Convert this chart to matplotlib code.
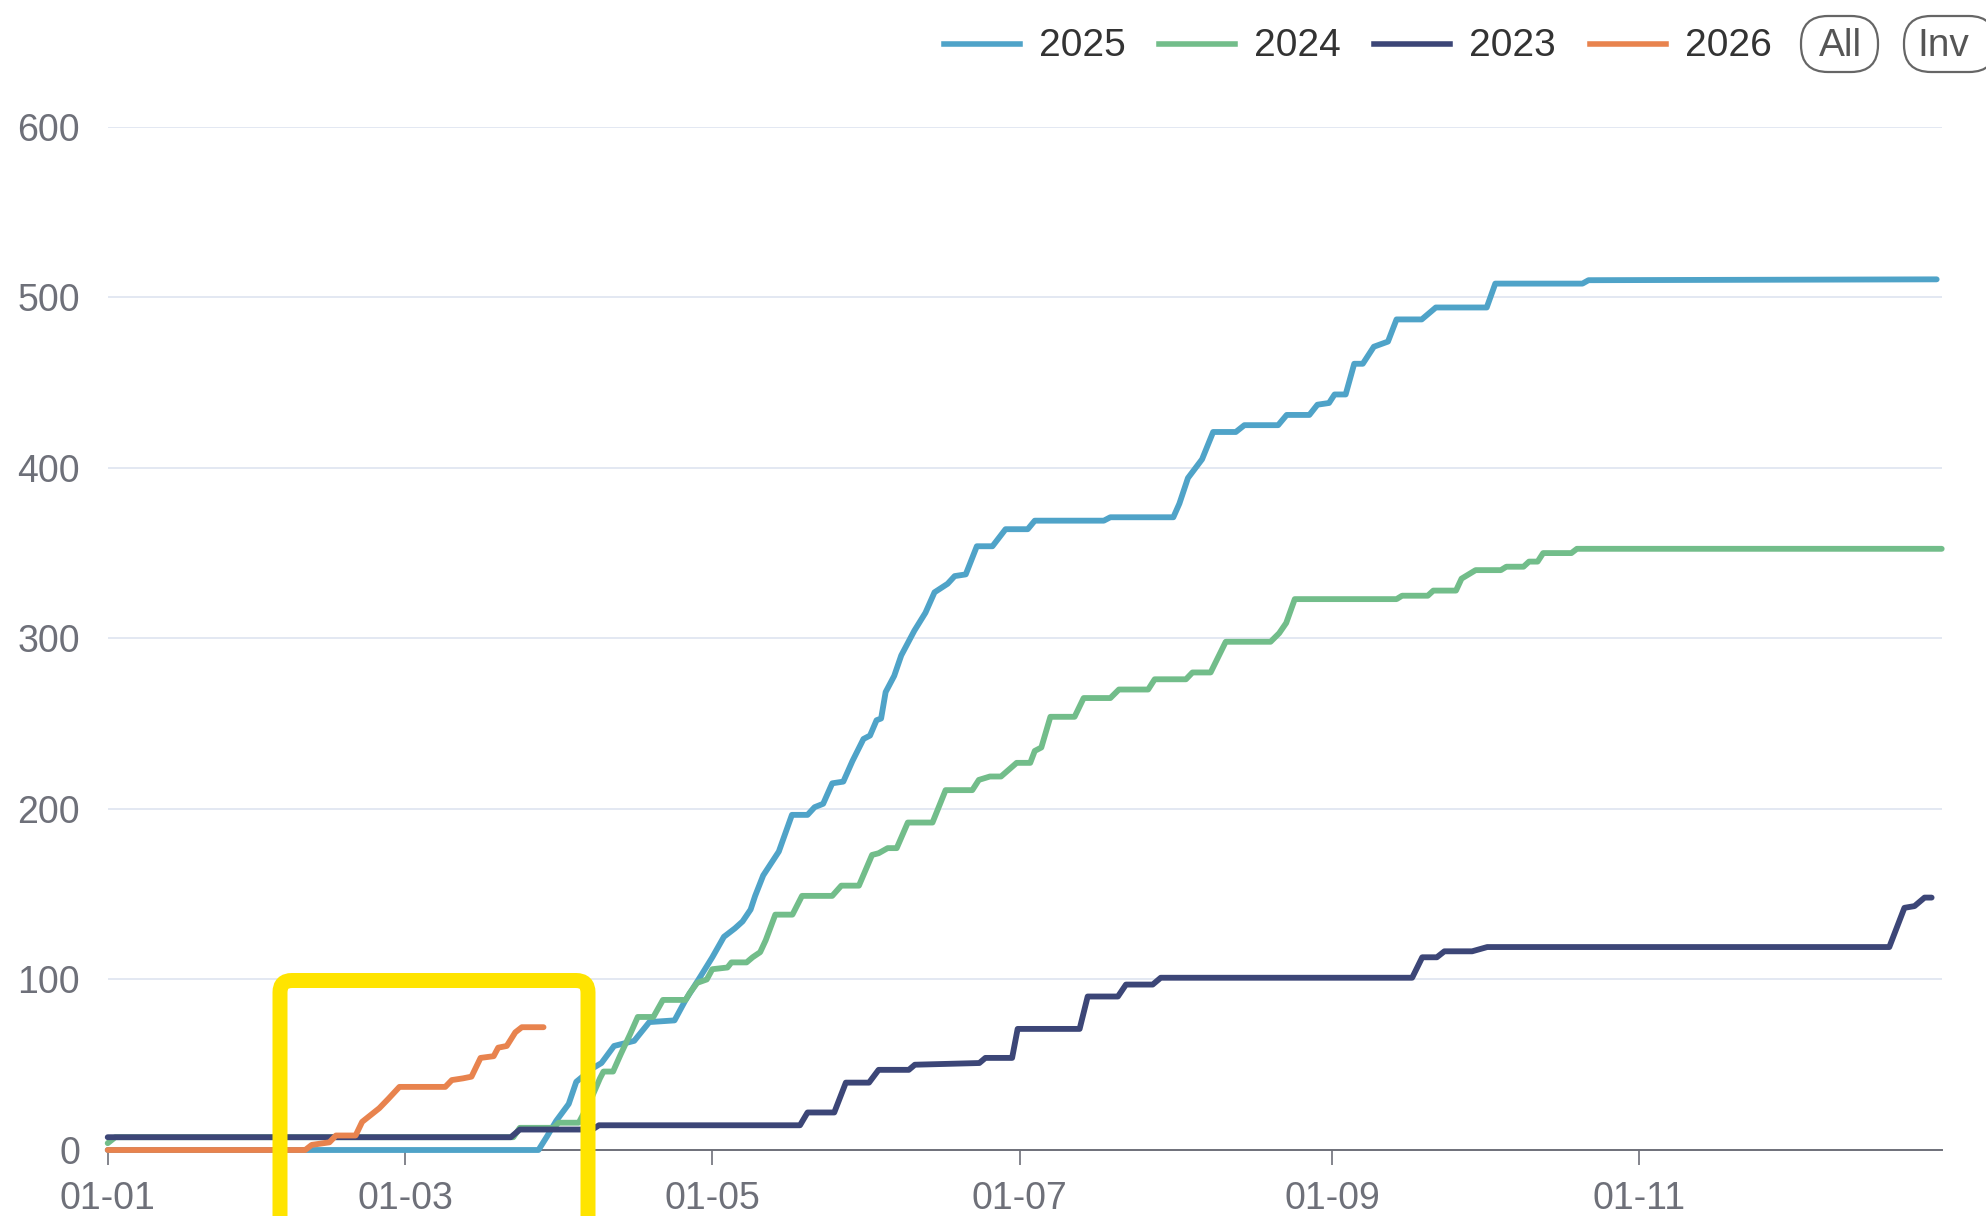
import matplotlib.pyplot as plt
from matplotlib.lines import Line2D
from matplotlib.patches import FancyBboxPatch
from matplotlib.transforms import IdentityTransform

plt.rcParams['font.family'] = ['Liberation Sans', 'DejaVu Sans']

# day of year (0 = 01-01) and cumulative value for each year
days_2025 = [0, 85.5, 87.2, 89, 91.5, 93, 96.3, 98, 100.5, 104.5, 107.5, 112.5, 114.7, 117.7, 120,
             122.3, 124.5, 126, 127.6, 128.5, 130.1, 133.2, 135.8, 138.9, 140.3, 142, 143.8, 146,
             147.8, 150, 151.3, 152.6, 153.5, 154.4, 156.1, 157.5, 160.1, 162.3, 164.1, 166.7,
             168.1, 170.3, 172.5, 175.6, 178.2, 182.6, 184, 197.7, 199, 211.5, 212.7, 214.4, 217.2,
             219.4, 223.9, 225.6, 232.3, 234, 238.5, 240.1, 242.4, 243.5, 245.7, 247.4, 249.1,
             251.3, 254.1, 255.8, 260.8, 263.6, 273.7, 275.4, 292.7, 293.9, 363]
vals_2025 = [0, 0, 8, 17, 27, 40, 48, 51, 61, 64, 75, 76, 88, 102, 113,
             125, 130, 134, 141, 149, 161, 175, 196.5, 196.5, 201, 203, 215, 216,
             228, 241, 243, 252, 253, 268.5, 278, 290, 304.5, 315, 327, 332,
             336.5, 337.5, 354, 354, 364, 364, 369, 369, 371, 371, 379, 394, 405,
             421, 421, 425, 425, 431, 431, 437, 438, 443, 443, 461, 461,
             471, 474, 487, 487, 494, 494, 508, 508, 510, 510.5]

days_2024 = [0, 1.5, 80.5, 81.8, 88.5, 89.5, 93.5, 95.8, 97.7, 98.4, 100.3, 101.8, 103.7, 105.2,
             108.3, 110.2, 114.7, 115.5, 117, 118.9, 120, 123, 123.8, 126.8, 128, 129.5, 130.6,
             132.5, 135.9, 137.8, 143.8, 145.6, 149.1, 151.7, 153, 154.8, 156.6, 158.8, 163.7,
             166.3, 171.6, 172.9, 175.1, 177.3, 180.4, 183.1, 184, 185.3, 187.1, 191.9, 193.7,
             199, 200.7, 206.5, 207.8, 214, 215.3, 218.9, 221.9, 230.8, 232.5, 233.9, 235.6,
             255.8, 256.9, 262, 263.1, 267.6, 268.7, 271.5, 276.5, 277.6, 281, 282.1, 283.8,
             284.9, 290.5, 291.6, 364]
vals_2024 = [4, 7.5, 7.5, 13, 13, 16, 16, 29, 42, 46, 46, 56, 68, 78,
             78, 88, 88, 92, 98, 100, 106, 107, 110, 110, 113, 116, 123,
             138, 138, 149, 149, 155, 155, 173, 174, 177, 177, 192, 192,
             211, 211, 217, 219, 219, 227, 227, 234, 236, 254, 254, 265,
             265, 270, 270, 276, 276, 280, 280, 298, 298, 303, 309, 323,
             323, 325, 325, 328, 328, 335, 340, 340, 342, 342, 345, 345,
             350, 350, 352.5, 352.5]

days_2023 = [0, 80, 81.8, 96.2, 97.5, 137.4, 138.9, 144.2, 146.5, 151.1, 153, 159, 160.2, 173,
             174.2, 179.5, 180.6, 192.9, 194.5, 200.5, 202.1, 207.4, 209, 258.9, 260.9, 263.8,
             265.3, 270.8, 273.8, 353.6, 356.6, 358.6, 360.6, 362]
vals_2023 = [7.5, 7.5, 12, 12, 14.5, 14.5, 22, 22, 39.5, 39.5, 47, 47, 50, 51,
             54, 54, 71, 71, 90, 90, 97, 97, 101, 101, 113, 113,
             116.5, 116.5, 119, 119, 142, 143, 148, 148]

days_2026 = [0, 39.2, 40.5, 44, 45.3, 49.2, 50.5, 52.2, 53.9, 55.7, 57.9, 67, 68.3, 70.5, 72.2,
             74, 76.6, 77.5, 79.2, 80.9, 82.2, 86.5]
vals_2026 = [0, 0, 3, 4.5, 8.5, 8.5, 16.5, 20.5, 24.5, 30, 37, 37, 41, 42, 43,
             54, 55, 60, 61, 69, 72, 72]

tick_days = [0, 59, 120, 181, 243, 304]
tick_labels = ['01-01', '01-03', '01-05', '01-07', '01-09', '01-11']

W, H = 1986, 1216
fig = plt.figure(figsize=(W / 100, H / 100), dpi=100)
ax = fig.add_axes([107.7 / W, 66 / H, 1834 / W, 1023.3 / H])

lw = 4.2
style = dict(lw=lw, clip_on=False, solid_joinstyle='round', solid_capstyle='round')
ax.plot(days_2025, vals_2025, color='#4fa3c8', zorder=3, **style)
ax.plot(days_2024, vals_2024, color='#72bd8a', zorder=4, **style)
ax.plot(days_2023, vals_2023, color='#3c4677', zorder=5, **style)
ax.plot(days_2026, vals_2026, color='#e8834e', zorder=6, **style)

ax.set_xlim(0, 364)
ax.set_ylim(0, 600)
ax.set_yticks(range(0, 601, 100))
ax.set_xticks(tick_days)
ax.set_xticklabels(tick_labels)
ax.grid(axis='y', color='#e0e6f1', lw=1.3)
ax.set_axisbelow(True)
for s in ['top', 'right', 'left']:
    ax.spines[s].set_visible(False)
ax.spines['bottom'].set_color('#6e7079')
ax.spines['bottom'].set_linewidth(1.4)
ax.spines['bottom'].set_zorder(2)
ax.tick_params(axis='x', length=11, width=1.2, color='#6e7079', pad=11,
               labelsize=27, labelcolor='#6e7079')
ax.tick_params(axis='y', length=0, pad=20, labelsize=27, labelcolor='#6e7079')

# legend drawn by hand at the top right
legend_items = [('2025', '#4fa3c8', 944), ('2024', '#72bd8a', 1159),
                ('2023', '#3c4677', 1374), ('2026', '#e8834e', 1590)]
ly = 1 - 44 / H
for name, col, x0 in legend_items:
    fig.add_artist(Line2D([x0 / W, (x0 + 76) / W], [ly, ly], color=col, lw=4.0,
                          transform=fig.transFigure))
    fig.text((x0 + 95) / W, 1 - 56 / H, name, fontsize=28, color='#333333',
             ha='left', va='baseline')

idt = IdentityTransform()
for label, x0, w in [('All', 1801, 77), ('Inv', 1904, 92)]:
    fig.add_artist(FancyBboxPatch((x0, H - 72), w, 56,
                                  boxstyle='round,pad=0,rounding_size=27',
                                  fc='none', ec='#666666', lw=1.6, transform=idt))
    fig.text((x0 + 39) / W, 1 - 56 / H, label, fontsize=28, color='#555555',
             ha='center', va='baseline')

# yellow highlight box
fig.add_artist(FancyBboxPatch((280, -40), 308, H - 980.5 + 40,
                              boxstyle='round,pad=0,rounding_size=12',
                              fc='none', ec='#ffe400', lw=10.8, transform=idt, zorder=10))

fig.savefig('out.png', dpi=100)
